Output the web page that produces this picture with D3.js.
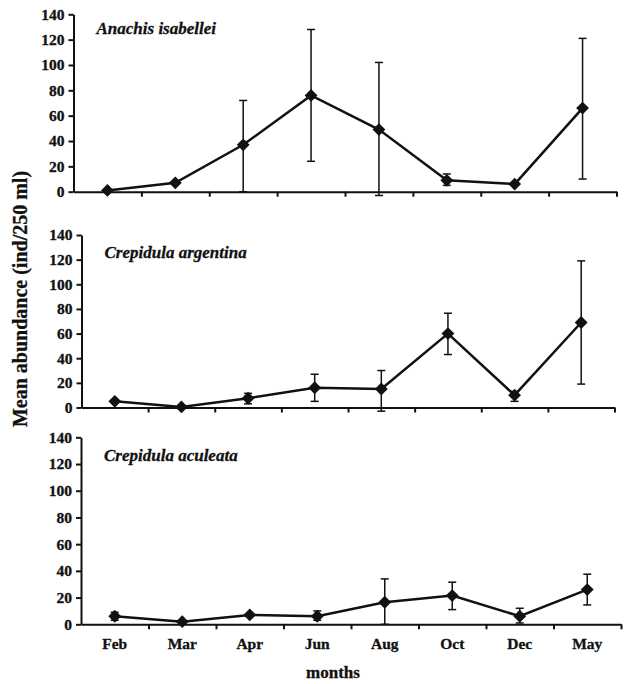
<!DOCTYPE html>
<html>
<head>
<meta charset="utf-8">
<script src="https://cdn.jsdelivr.net/npm/d3@7"></script>
<style>
  body { margin: 0; background: #fff; }
  text { font-family: "Liberation Serif", "Times New Roman", serif; font-weight: bold; fill: #111; stroke: #111; stroke-width: 0.3px; }
</style>
</head>
<body>
<div class="canva"></div>
<script>
// months sampled (x categories)
const months = ['Feb', 'Mar', 'Apr', 'Jun', 'Aug', 'Oct', 'Dec', 'May'];
const yTicks = [0, 20, 40, 60, 80, 100, 120, 140];

// Anachis isabellei
const anachisMean = [1, 7, 37, 76, 49, 9, 6, 66];
const anachisLow  = [null, null, 0, 24, -3, 5, null, 10];
const anachisHigh = [null, null, 72, 128, 102, 14, null, 121];

// Crepidula argentina
const argentinaMean = [5, 0.5, 7.5, 16, 15, 60, 10, 69];
const argentinaLow  = [null, null, 3, 5, -3, 43, 5, 19];
const argentinaHigh = [null, null, 11.5, 27, 30, 76.5, 13, 119];

// Crepidula aculeata
const aculeataMean = [6, 2, 7, 6, 16.5, 21.5, 6, 26];
const aculeataLow  = [3, null, null, 3, 0, 11, 1, 14.5];
const aculeataHigh = [9, null, null, 10, 34, 31.5, 12, 37.5];

const canvas = d3.select('.canva');
const svg = canvas.append('svg')
  .attr('width', 625)
  .attr('height', 684);

// each panel has its own box, like the scanned figure
const panels = [
  { name: 'Anachis isabellei', mean: anachisMean, low: anachisLow, high: anachisHigh,
    left: 73.5, right: 616.5, top: 14.3, bottom: 191.7, labelY: 34 },
  { name: 'Crepidula argentina', mean: argentinaMean, low: argentinaLow, high: argentinaHigh,
    left: 81.5, right: 614.5, top: 235, bottom: 407.5, labelY: 258 },
  { name: 'Crepidula aculeata', mean: aculeataMean, low: aculeataLow, high: aculeataHigh,
    left: 81, right: 621, top: 437.3, bottom: 624.3, labelY: 461 }
];

panels.forEach((p, pi) => {
  const g = svg.append('g');

  const y = d3.scaleLinear().domain([0, 140]).range([p.bottom, p.top]);
  const x = d3.scaleBand().domain(months).range([p.left, p.right]).padding(0);
  const xEdge = d3.scaleLinear().domain([0, months.length]).range([p.left, p.right]);

  // y axis
  const yAxis = d3.axisLeft(y).tickValues(yTicks).tickSize(5).tickSizeOuter(0).tickPadding(4);
  const yg = g.append('g').attr('transform', `translate(${p.left},0)`).call(yAxis);
  yg.selectAll('text').style('font-size', '15.5px');

  // x axis line with ticks at category edges
  const xAxis = d3.axisBottom(xEdge).tickValues(d3.range(1, months.length + 1))
    .tickSize(5).tickSizeOuter(0).tickFormat('');
  g.append('g').attr('transform', `translate(0,${p.bottom})`).call(xAxis);

  g.selectAll('.domain, .tick line').attr('stroke', '#111').attr('stroke-width', 2);

  // month labels only under the last panel
  if (pi === panels.length - 1) {
    const lab = d3.axisBottom(x).tickSize(0).tickPadding(14);
    const lg = g.append('g').attr('transform', `translate(0,${p.bottom})`).call(lab);
    lg.select('.domain').remove();
    lg.selectAll('text').style('font-size', '15.5px');
  }

  // species name
  g.append('text')
    .attr('x', p.left + 23)
    .attr('y', p.labelY)
    .style('font-size', '17px')
    .style('font-style', 'italic')
    .text(p.name);

  const data = months.map((m, i) => ({ m, v: p.mean[i], lo: p.low[i], hi: p.high[i] }));
  const cx = d => x(d.m) + x.bandwidth() / 2;

  // error bars
  const eb = g.selectAll('.err').data(data.filter(d => d.lo !== null)).enter().append('g')
    .attr('stroke', '#111').attr('stroke-width', 1.5);
  eb.append('line').attr('x1', cx).attr('x2', cx).attr('y1', d => y(d.lo)).attr('y2', d => y(d.hi));
  eb.append('line').attr('x1', d => cx(d) - 4).attr('x2', d => cx(d) + 4).attr('y1', d => y(d.hi)).attr('y2', d => y(d.hi));
  eb.append('line').attr('x1', d => cx(d) - 4).attr('x2', d => cx(d) + 4).attr('y1', d => y(d.lo)).attr('y2', d => y(d.lo));

  // mean line
  const line = d3.line().x(cx).y(d => y(d.v));
  g.append('path').datum(data)
    .attr('d', line)
    .attr('fill', 'none')
    .attr('stroke', '#111')
    .attr('stroke-width', 2.5);

  // diamond markers
  g.selectAll('.pt').data(data).enter().append('path')
    .attr('d', d3.symbol().type(d3.symbolDiamond2).size(105))
    .attr('transform', d => `translate(${cx(d)},${y(d.v)})`)
    .attr('fill', '#111');
});

// shared axis titles
svg.append('text')
  .attr('transform', 'translate(27,299) rotate(-90)')
  .attr('text-anchor', 'middle')
  .style('font-size', '20px')
  .text('Mean abundance (ind/250 ml)');

svg.append('text')
  .attr('x', 333)
  .attr('y', 678)
  .attr('text-anchor', 'middle')
  .style('font-size', '17px')
  .text('months');
</script>
</body>
</html>
